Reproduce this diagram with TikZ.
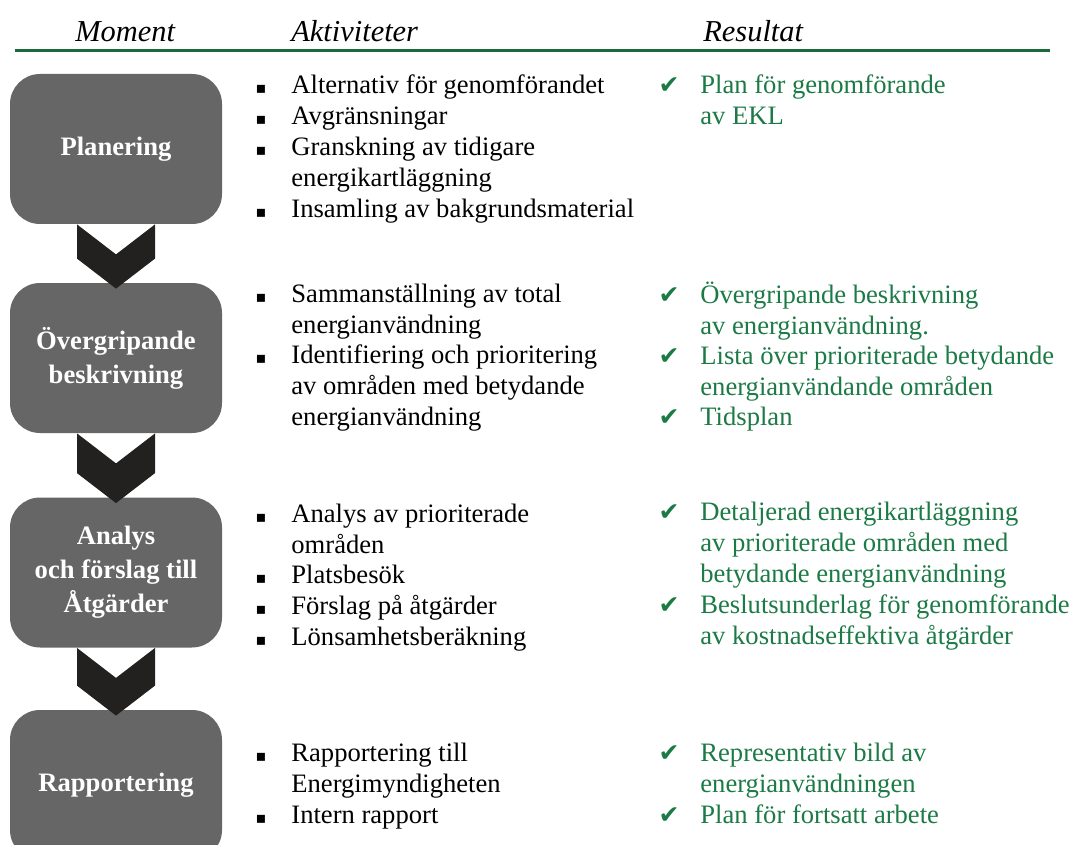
\documentclass[tikz,border=0pt]{standalone}
\usepackage{fontspec}
\setmainfont{Liberation Serif}
\newfontfamily\symfont{DejaVu Sans}
\usetikzlibrary{calc}

\definecolor{boxgray}{HTML}{666666}
\definecolor{chevdark}{HTML}{23211F}
\definecolor{resgreen}{HTML}{1B7A45}
\definecolor{linegreen}{HTML}{1A6A3B}

\tikzset{
  stage/.style={rectangle, rounded corners=15pt, fill=boxgray, minimum width=106pt, minimum height=75pt, text=white, align=center, font=\fontsize{13.3}{17}\selectfont\bfseries},
  item/.style={anchor=base west, inner sep=0pt, font=\fontsize{13.3}{15.5}\selectfont},
  res/.style={item, text=resgreen},
  bul/.style={anchor=base, inner sep=0pt, font=\symfont\fontsize{8}{8}\selectfont},
  chk/.style={anchor=base, inner sep=0pt, text=resgreen, font=\symfont\fontsize{12.5}{12.5}\selectfont},
  head/.style={anchor=base west, inner sep=0pt, font=\fontsize{15.2}{18}\selectfont\itshape},
}

% lines of one item, first line on the node's base
\newcommand{\stack}[1]{\begin{tabular}[t]{@{}l@{}}#1\end{tabular}}

% chevron from one stage down to the next
\newcommand{\chevron}[2]{%
  \fill[chevdark] ($(#1.south)+(-39,0)$) -- ($(#1.south)+(0,30)$) -- ($(#1.south)+(39,0)$)
    -- ($(#2.north)+(39,-24)$) -- ($(#2.north)+(0,6)$) -- ($(#2.north)+(-39,-24)$) -- cycle;}

\begin{document}
\begin{tikzpicture}[x=0.5pt,y=-0.5pt]
  \clip (0,0) rectangle (1070,845);

  % headings
  \node[head] (hmom) at (75,42) {Moment};
  \node[head] (hakt) at (291,42) {Aktiviteter};
  \node[head] (hres) at (703,42) {Resultat};
  \coordinate (lineL) at (15,51);
  \coordinate (lineR) at (1050,51);
  \draw[linegreen, line width=1.5pt] (lineL) -- (lineR);

  % stages
  \node[stage] (plan) at (116,149) {Planering};
  \node[stage] (over) at (116,358) {Övergripande\\beskrivning};
  \node[stage] (anal) at (116,572.5) {Analys\\och förslag till\\Åtgärder};
  \node[stage] (rapp) at (116,785) {Rapportering};

  \chevron{plan}{over}
  \chevron{over}{anal}
  \chevron{anal}{rapp}

  % aktiviteter
  \node[bul] (b11) at (261,94) {▪};
  \node[item] (a11) at (291,94) {Alternativ för genomförandet};
  \node[bul] (b12) at (261,125) {▪};
  \node[item] (a12) at (291,125) {Avgränsningar};
  \node[bul] (b13) at (261,156) {▪};
  \node[item] (a13) at (291,156) {\stack{Granskning av tidigare\\energikartläggning}};
  \node[bul] (b14) at (261,218) {▪};
  \node[item] (a14) at (291,218) {Insamling av bakgrundsmaterial};

  \node[bul] (b21) at (261,302) {▪};
  \node[item] (a21) at (291,302) {\stack{Sammanställning av total\\energianvändning}};
  \node[bul] (b22) at (261,363) {▪};
  \node[item] (a22) at (291,363) {\stack{Identifiering och prioritering\\av områden med betydande\\energianvändning}};

  \node[bul] (b31) at (261,522) {▪};
  \node[item] (a31) at (291,522) {\stack{Analys av prioriterade\\områden}};
  \node[bul] (b32) at (261,583) {▪};
  \node[item] (a32) at (291,583) {Platsbesök};
  \node[bul] (b33) at (261,614) {▪};
  \node[item] (a33) at (291,614) {Förslag på åtgärder};
  \node[bul] (b34) at (261,645) {▪};
  \node[item] (a34) at (291,645) {Lönsamhetsberäkning};

  \node[bul] (b41) at (261,761) {▪};
  \node[item] (a41) at (291,761) {\stack{Rapportering till\\Energimyndigheten}};
  \node[bul] (b42) at (261,823) {▪};
  \node[item] (a42) at (291,823) {Intern rapport};

  % resultat
  \node[chk] (c11) at (669,94) {✔};
  \node[res] (r11) at (700,94) {\stack{Plan för genomförande\\av EKL}};

  \node[chk] (c21) at (669,303) {✔};
  \node[res] (r21) at (700,303) {\stack{Övergripande beskrivning\\av energianvändning.}};
  \node[chk] (c22) at (669,364) {✔};
  \node[res] (r22) at (700,364) {\stack{Lista över prioriterade betydande\\energianvändande områden}};
  \node[chk] (c23) at (669,425) {✔};
  \node[res] (r23) at (700,425) {Tidsplan};

  \node[chk] (c31) at (669,520) {✔};
  \node[res] (r31) at (700,520) {\stack{Detaljerad energikartläggning\\av prioriterade områden med\\betydande energianvändning}};
  \node[chk] (c32) at (669,613) {✔};
  \node[res] (r32) at (700,613) {\stack{Beslutsunderlag för genomförande\\av kostnadseffektiva åtgärder}};

  \node[chk] (c41) at (669,761) {✔};
  \node[res] (r41) at (700,761) {\stack{Representativ bild av\\energianvändningen}};
  \node[chk] (c42) at (669,823) {✔};
  \node[res] (r42) at (700,823) {Plan för fortsatt arbete};
\end{tikzpicture}
\end{document}
